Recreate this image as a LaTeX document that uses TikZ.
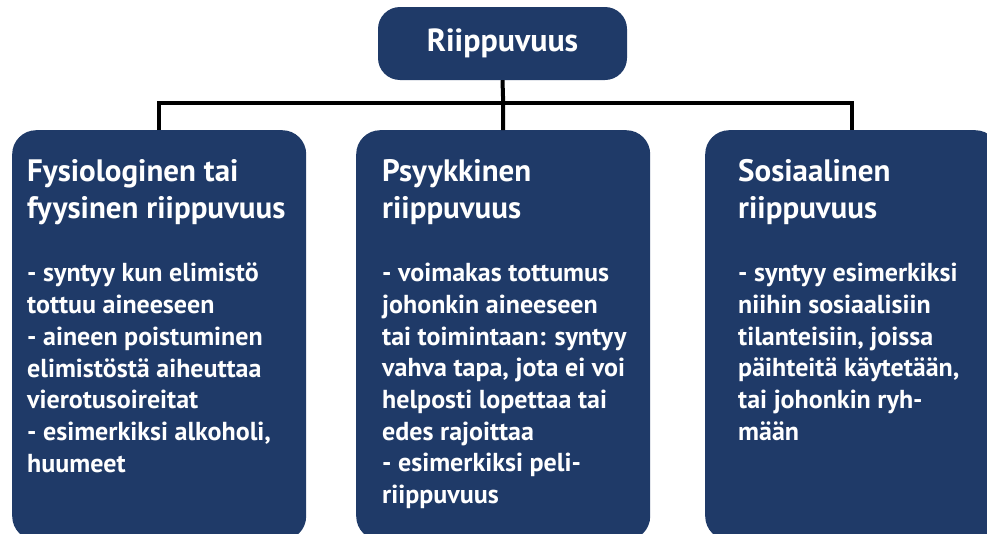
\documentclass[tikz,border=0pt]{standalone}
\usepackage{fontspec}
\setmainfont{PT Sans}
\usetikzlibrary{positioning,calc}
\definecolor{boxnavy}{RGB}{31,58,104}

\begin{document}
\begin{tikzpicture}[
    x=1pt, y=-1pt,
    every node/.style={text=white, font=\bfseries},
    box/.style={rectangle, fill=boxnavy, rounded corners=24pt, minimum width=294pt, minimum height=410pt, anchor=north west, inner sep=0pt},
    topbox/.style={rectangle, fill=boxnavy, rounded corners=22pt, minimum width=249pt, minimum height=73pt, inner sep=0pt, font=\fontsize{32}{38}\selectfont\bfseries},
    headtxt/.style={anchor=north west, align=left, inner sep=0pt, font=\fontsize{31}{37}\selectfont\bfseries},
    bodytxt/.style={anchor=north west, align=left, inner sep=0pt, font=\fontsize{26}{31.7}\selectfont\bfseries},
    conn/.style={draw=black, line width=4pt}
]
\useasboundingbox (0,0) rectangle (987,533);
\clip (0,0) rectangle (987,533);

% Top node
\node[topbox] (top) at (502.5,43.5) {Riippuvuus};

% Three boxes
\node[box] (b1) at (12,130) {};
\node[box] (b2) at (356,130) {};
\node[box] (b3) at (705,130) {};

% Connectors
\coordinate (bar) at (502.5,103);
\draw[conn] (top.south) -- (bar -| b2.north) -- (b2.north);
\draw[conn] (b1.north) |- (bar) -| (b3.north);

% Texts
\node[headtxt] (h1) at (27,159) {Fysiologinen tai\\fyysinen riippuvuus};
\node[bodytxt] (t1) at (27,263) {- syntyy kun elimistö\\tottuu aineeseen\\- aineen poistuminen\\elimistöstä aiheuttaa\\vierotusoireitat\\- esimerkiksi alkoholi,\\huumeet};

\node[headtxt] (h2) at (382,159) {Psyykkinen\\riippuvuus};
\node[bodytxt] (t2) at (382,263) {- voimakas tottumus\\johonkin aineeseen\\tai toimintaan: syntyy\\vahva tapa, jota ei voi\\helposti lopettaa tai\\edes rajoittaa\\- esimerkiksi peli-\\riippuvuus};

\node[headtxt] (h3) at (738,159) {Sosiaalinen\\riippuvuus};
\node[bodytxt] (t3) at (738,263) {- syntyy esimerkiksi\\niihin sosiaalisiin\\tilanteisiin, joissa\\päihteitä käytetään,\\tai johonkin ryh-\\mään};

\end{tikzpicture}
\end{document}
